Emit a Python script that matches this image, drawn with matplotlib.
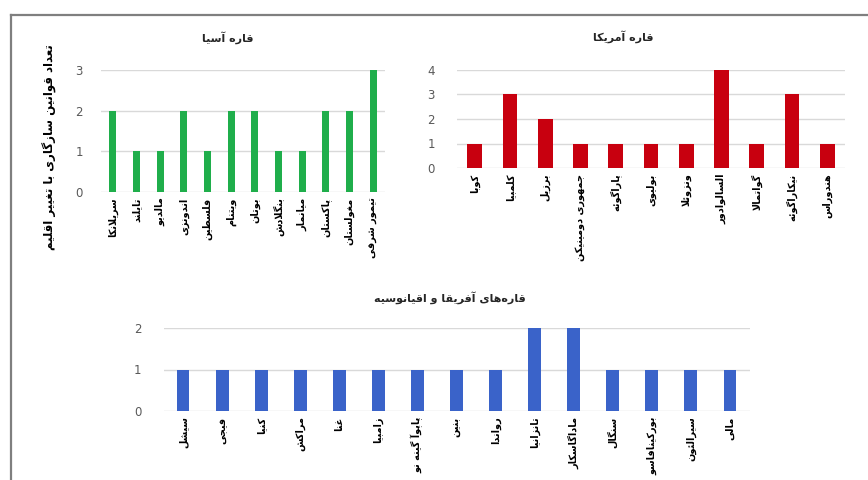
import matplotlib
matplotlib.use("Agg")
import matplotlib.pyplot as plt
from matplotlib.lines import Line2D

# ---------------- data ----------------
asia_countries = ["سریلانکا", "تایلند", "مالدیو", "اندونزی", "فلسطین", "ویتنام",
                  "بوتان", "بنگلادش", "میانمار", "پاکستان", "مغولستان", "تیمور شرقی"]
asia_values = [2, 1, 1, 2, 1, 2, 2, 1, 1, 2, 2, 3]

america_countries = ["کوبا", "کلمبیا", "برزیل", "جمهوری دومینیکن", "پاراگوئه", "بولیوی",
                     "ونزوئلا", "السالوادور", "گواتمالا", "نیکاراگوئه", "هندوراس"]
america_values = [1, 3, 2, 1, 1, 1, 1, 4, 1, 3, 1]

africa_countries = ["سیشل", "فیجی", "کنیا", "مراکش", "غنا", "زامبیا", "پاپوآ گینه نو",
                    "بنین", "رواندا", "تانزانیا", "ماداگاسکار", "سنگال", "بورکینافاسو",
                    "سیرالئون", "مالی"]
africa_values = [1, 1, 1, 1, 1, 1, 1, 1, 1, 2, 2, 1, 1, 1, 1]

asia_title = "قاره آسیا"
america_title = "قاره آمریکا"
africa_title = "قاره\u200cهای آفریقا و اقیانوسیه"
y_label = "تعداد قوانین سازگاری با تغییر اقلیم"

# ---------------- simple Persian shaping ----------------
FORMS = {
    '\u0627': (0xFE8D, 0xFE8E, None, None),
    '\u0622': (0xFE81, 0xFE82, None, None),
    '\u0628': (0xFE8F, 0xFE90, 0xFE91, 0xFE92),
    '\u067E': (0xFB56, 0xFB57, 0xFB58, 0xFB59),
    '\u062A': (0xFE95, 0xFE96, 0xFE97, 0xFE98),
    '\u062B': (0xFE99, 0xFE9A, 0xFE9B, 0xFE9C),
    '\u062C': (0xFE9D, 0xFE9E, 0xFE9F, 0xFEA0),
    '\u0686': (0xFB7A, 0xFB7B, 0xFB7C, 0xFB7D),
    '\u062D': (0xFEA1, 0xFEA2, 0xFEA3, 0xFEA4),
    '\u062E': (0xFEA5, 0xFEA6, 0xFEA7, 0xFEA8),
    '\u062F': (0xFEA9, 0xFEAA, None, None),
    '\u0630': (0xFEAB, 0xFEAC, None, None),
    '\u0631': (0xFEAD, 0xFEAE, None, None),
    '\u0632': (0xFEAF, 0xFEB0, None, None),
    '\u0698': (0xFB8A, 0xFB8B, None, None),
    '\u0633': (0xFEB1, 0xFEB2, 0xFEB3, 0xFEB4),
    '\u0634': (0xFEB5, 0xFEB6, 0xFEB7, 0xFEB8),
    '\u0635': (0xFEB9, 0xFEBA, 0xFEBB, 0xFEBC),
    '\u0636': (0xFEBD, 0xFEBE, 0xFEBF, 0xFEC0),
    '\u0637': (0xFEC1, 0xFEC2, 0xFEC3, 0xFEC4),
    '\u0638': (0xFEC5, 0xFEC6, 0xFEC7, 0xFEC8),
    '\u0639': (0xFEC9, 0xFECA, 0xFECB, 0xFECC),
    '\u063A': (0xFECD, 0xFECE, 0xFECF, 0xFED0),
    '\u0641': (0xFED1, 0xFED2, 0xFED3, 0xFED4),
    '\u0642': (0xFED5, 0xFED6, 0xFED7, 0xFED8),
    '\u06A9': (0xFB8E, 0xFB8F, 0xFB90, 0xFB91),
    '\u06AF': (0xFB92, 0xFB93, 0xFB94, 0xFB95),
    '\u0644': (0xFEDD, 0xFEDE, 0xFEDF, 0xFEE0),
    '\u0645': (0xFEE1, 0xFEE2, 0xFEE3, 0xFEE4),
    '\u0646': (0xFEE5, 0xFEE6, 0xFEE7, 0xFEE8),
    '\u0648': (0xFEED, 0xFEEE, None, None),
    '\u0647': (0xFEE9, 0xFEEA, 0xFEEB, 0xFEEC),
    '\u06CC': (0xFBFC, 0xFBFD, 0xFBFE, 0xFBFF),
    '\u0626': (0xFE89, 0xFE8A, 0xFE8B, 0xFE8C),
}


def joins_next(ch):
    return ch in FORMS and FORMS[ch][2] is not None


def shape(text):
    chars = list(text)
    out = []
    i = 0
    n = len(chars)
    while i < n:
        c = chars[i]
        if c == '\u200c':
            i += 1
            continue
        if c not in FORMS:
            out.append(c)
            i += 1
            continue
        prev = chars[i - 1] if i > 0 else None
        connect_prev = prev is not None and joins_next(prev)
        # lam-alef ligature
        if c == '\u0644' and i + 1 < n and chars[i + 1] == '\u0627':
            out.append(chr(0xFEFC if connect_prev else 0xFEFB))
            i += 2
            continue
        nxt = chars[i + 1] if i + 1 < n else None
        connect_next = joins_next(c) and nxt is not None and nxt in FORMS
        iso, fin, ini, med = FORMS[c]
        if connect_prev and connect_next:
            form = med
        elif connect_prev:
            form = fin
        elif connect_next:
            form = ini
        else:
            form = iso
        out.append(chr(form))
        i += 1
    return ''.join(reversed(out))


# ---------------- figure ----------------
plt.rcParams['font.family'] = ['DejaVu Sans']
fig = plt.figure(figsize=(8.68, 4.8), dpi=100)
fig.patch.set_facecolor('white')

# frame lines (top and left)
fig.add_artist(Line2D([11 / 868, 11 / 868], [0, 1 - 15 / 480], transform=fig.transFigure,
                      color='#7f7f7f', lw=1.6))
fig.add_artist(Line2D([11 / 868, 1], [1 - 15 / 480, 1 - 15 / 480], transform=fig.transFigure,
                      color='#7f7f7f', lw=1.6))

grid_color = '#d9d9d9'
tick_color = '#595959'


def panel(rect, names, values, color, ymax, width, pad):
    ax = fig.add_axes(rect)
    x = list(range(len(names)))
    ax.bar(x, values, width=width, color=color, zorder=3)
    ax.set_xlim(-0.5, len(names) - 0.5)
    ax.set_ylim(0, ymax)
    ax.set_yticks(range(ymax + 1))
    ax.set_xticks(x)
    ax.set_xticklabels([shape(s) for s in names], rotation=90, va='top', ha='center',
                       fontsize=7, fontweight='bold', color='black')
    ax.tick_params(axis='x', length=0, pad=4)
    ax.tick_params(axis='y', length=0, pad=pad, labelsize=8.5, labelcolor=tick_color)
    ax.yaxis.grid(True, color=grid_color, lw=1, zorder=0)
    for s in ax.spines.values():
        s.set_visible(False)
    ax.set_facecolor('none')
    return ax


ax1 = panel([101 / 868, 1 - 192 / 480, 284 / 868, 122 / 480], asia_countries, asia_values,
            '#1fae4b', 3, 0.3, 13)
ax2 = panel([457 / 868, 1 - 168 / 480, 388 / 868, 98 / 480], america_countries, america_values,
            '#c8000f', 4, 0.42, 16)
ax3 = panel([163.5 / 868, 1 - 411 / 480, 586 / 868, 83 / 480], africa_countries, africa_values,
            '#3a63c9', 2, 0.33, 16)

fig.text(228 / 868, 1 - 38 / 480, shape(asia_title), ha='center', va='center',
         fontsize=8, fontweight='bold', color='#262626')
fig.text(623 / 868, 1 - 37 / 480, shape(america_title), ha='center', va='center',
         fontsize=8, fontweight='bold', color='#262626')
fig.text(450 / 868, 1 - 298 / 480, shape(africa_title), ha='center', va='center',
         fontsize=8, fontweight='bold', color='#262626')
fig.text(50 / 868, 1 - 147 / 480, shape(y_label), ha='center', va='center', rotation=90,
         fontsize=8.5, fontweight='bold', color='black')

fig.savefig('out.png', dpi=100, facecolor='white')
